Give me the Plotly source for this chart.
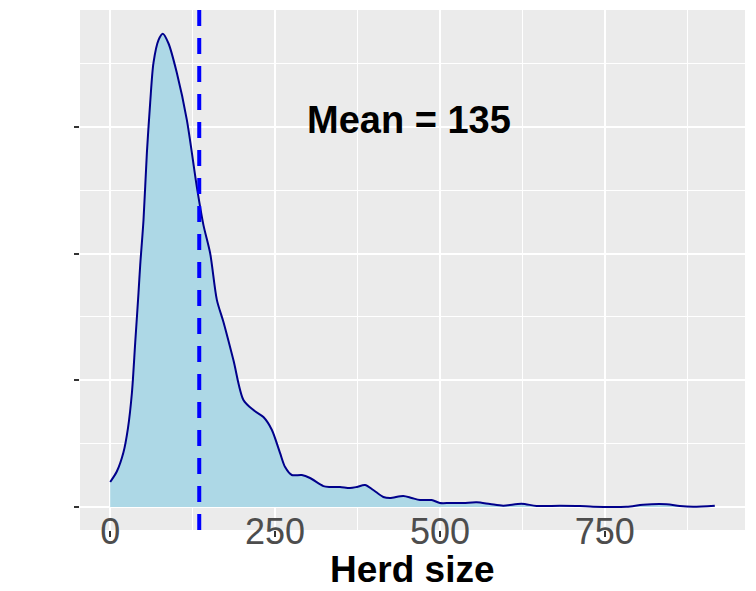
import plotly.graph_objects as go

# Density curve of herd size (x = herd size, y = density)
herd_size = [0, 10, 20, 27, 32.9, 37.9, 42.9, 45.5, 50.5, 55.6, 60.6, 65.6, 73.2, 79.8,
             88.3, 101.1, 116.2, 131.4, 141.4, 151.5, 161.7, 171.7, 186.8, 202, 217.1,
             232.3, 245, 257.6, 265.2, 275.3, 290.5, 303, 323.2, 333.3, 348.5, 363.6,
             373.8, 386.4, 398.9, 414.1, 424.2, 444.4, 457.1, 469.7, 487.4, 500, 515.2,
             535.3, 555.6, 575.8, 595.9, 623.8, 646.5, 681.8, 712.1, 732.3, 782.9, 808,
             843.5, 863.6, 883.8, 916.7]
density_e3 = [0.395, 0.56, 0.86, 1.25, 1.80, 2.59, 3.38, 3.82, 4.53, 5.59, 6.38, 7.01, 7.37, 7.47,
              7.32, 6.85, 6.11, 5.05, 4.45, 4.01, 3.27, 2.92, 2.32, 1.69, 1.53,
              1.42, 1.22, 0.85, 0.63, 0.505, 0.505, 0.458, 0.33, 0.316, 0.316, 0.30,
              0.316, 0.347, 0.268, 0.158, 0.142, 0.174, 0.142, 0.11, 0.11, 0.063, 0.063,
              0.063, 0.074, 0.047, 0.02, 0.052, 0.016, 0.02, 0.016, 0.005, 0.005, 0.036,
              0.043, 0.016, 0.005, 0.02]
density = [v / 1000 for v in density_e3]

mean_value = 135
x_ticks = [0, 250, 500, 750]
x_tick_labels = ["0", "250", "500", "750"]
y_ticks = [0, 0.002, 0.004, 0.006]

FONT = "Liberation Sans, Arial, Helvetica, sans-serif"

fig = go.Figure()
fig.add_trace(go.Scatter(
    x=herd_size, y=density, mode="lines",
    line=dict(color="#00008B", width=2, shape="spline", smoothing=0.8),
    fill="tozeroy", fillcolor="#ADD8E6", hoverinfo="skip", showlegend=False,
))

fig.add_shape(type="line", xref="x", yref="paper", x0=mean_value, x1=mean_value,
              y0=0, y1=1, line=dict(color="#0000FF", width=4, dash="16px,12px"))

fig.add_annotation(x=453, y=0.00611, xref="x", yref="y", text="<b>Mean = 135</b>",
                   showarrow=False, font=dict(family=FONT, size=38, color="black"),
                   xanchor="center", yanchor="middle")

# x-axis title placed as annotation (paper coords: plot area spans px 10..530)
fig.add_annotation(x=0.5, y=(530 - 569) / 520, xref="paper", yref="paper",
                   text="<b>Herd size</b>", showarrow=False,
                   font=dict(family=FONT, size=37, color="black"),
                   xanchor="center", yanchor="middle")

fig.update_layout(
    width=756, height=591,
    margin=dict(l=80, r=11, t=10, b=61, autoexpand=False),
    paper_bgcolor="white", plot_bgcolor="#EBEBEB",
    font=dict(family=FONT),
    xaxis=dict(
        range=[-45.8, 962.5], tickvals=x_ticks, ticktext=x_tick_labels,
        tickfont=dict(size=36, color="#4D4D4D", family=FONT),
        ticks="outside", ticklen=6, tickwidth=1.5, tickcolor="#333333",
        showgrid=True, gridcolor="white", gridwidth=2,
        minor=dict(dtick=125, tick0=125, showgrid=True, gridcolor="white", gridwidth=1, ticks=""),
        zeroline=False, showline=False, automargin=False,
        ticklabelstandoff=-36,
    ),
    yaxis=dict(
        range=[-0.000363, 0.007845], tickvals=y_ticks, showticklabels=False,
        ticks="outside", ticklen=5, tickwidth=1.5, tickcolor="#333333",
        showgrid=True, gridcolor="white", gridwidth=2,
        minor=dict(dtick=0.001, tick0=0.001, showgrid=True, gridcolor="white", gridwidth=1, ticks=""),
        zeroline=False, showline=False, automargin=False,
    ),
)

fig.write_html("out.html", config={"displayModeBar": False},
               post_script="document.body.style.margin='0';document.body.style.overflow='hidden';")
